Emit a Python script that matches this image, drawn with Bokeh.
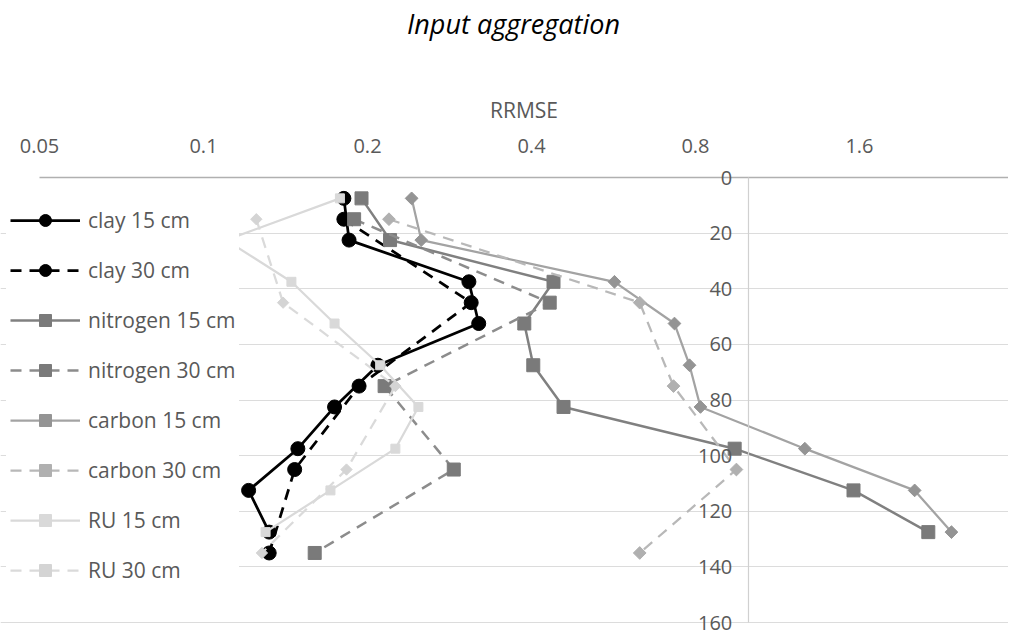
import numpy as np
from bokeh.plotting import figure
from bokeh.models import (Range1d, LogAxis, LinearAxis, FixedTicker, Grid,
                          Legend, LegendItem, Label)
from bokeh.embed import file_html
from bokeh.resources import INLINE

# ---------------- data ----------------
depth_15 = [7.5, 22.5, 37.5, 52.5, 67.5, 82.5, 97.5, 112.5, 127.5]
depth_30 = [15, 45, 75, 105, 135]

clay_15 = [0.181, 0.185, 0.307, 0.320, 0.209, 0.174, 0.149, 0.121, 0.132]
clay_30 = [0.181, 0.310, 0.193, 0.147, 0.132]
nitrogen_15 = [0.195, 0.220, 0.439, 0.388, 0.403, 0.458, 0.944, 1.56, 2.14]
nitrogen_30 = [0.189, 0.432, 0.215, 0.288, 0.160]
carbon_15 = [0.241, 0.251, 0.568, 0.732, 0.780, 0.817, 1.27, 2.02, 2.36]
carbon_30 = [0.219, 0.632, 0.729, 0.951, 0.632]
ru_15 = [0.178, 0.110, 0.145, 0.174, 0.211, 0.248, 0.225, 0.171, 0.130]
ru_30 = [0.125, 0.140, 0.225, 0.183, 0.128]

x_ticks = [0.05, 0.1, 0.2, 0.4, 0.8, 1.6]
x_tick_labels = ["0.05", "0.1", "0.2", "0.4", "0.8", "1.6"]
y_ticks = [0, 20, 40, 60, 80, 100, 120, 140, 160]
grid_ticks = [20, 40, 60, 80, 100, 120, 140, 160]

title_text = "Input aggregation"
x_title = "RRMSE"

# ---------------- figure ----------------
W, H = 1008, 639
FONT = "Open Sans"
TXT = "#595959"

p = figure(width=W, height=H, output_backend="svg", toolbar_location=None,
           x_axis_type="log", x_axis_location=None, y_axis_location=None,
           x_range=Range1d(0.04240, 3.0035), y_range=Range1d(166.11, -63.64),
           min_border=0, outline_line_color=None)
p.title.visible = False
for g in p.grid:
    g.visible = False

grid = Grid(dimension=1, ticker=FixedTicker(ticks=grid_ticks),
            grid_line_color="#dcdcdc", grid_line_width=1)
p.add_layout(grid)

xaxis = LogAxis(fixed_location=0, ticker=FixedTicker(ticks=x_ticks),
                bounds=(0.05, 3.0),
                major_label_overrides=dict(zip(x_ticks, x_tick_labels)),
                axis_label=x_title, axis_label_standoff=12,
                axis_label_text_font=FONT, axis_label_text_font_size="21px",
                axis_label_text_font_style="normal", axis_label_text_color=TXT,
                major_label_text_font=FONT, major_label_text_font_size="20px",
                major_label_text_color=TXT, major_label_standoff=25,
                major_tick_in=0, major_tick_out=0, minor_tick_in=0, minor_tick_out=0,
                axis_line_color="#b0b0b0", axis_line_width=1.5)
p.add_layout(xaxis, "above")

yaxis = LinearAxis(fixed_location=1.0, ticker=FixedTicker(ticks=y_ticks),
                   bounds=(0, 160),
                   major_label_text_font=FONT, major_label_text_font_size="20px",
                   major_label_text_color=TXT, major_label_standoff=16,
                   major_tick_in=0, major_tick_out=0, minor_tick_in=0, minor_tick_out=0,
                   axis_line_color="#d0d0d0", axis_line_width=1.2)
p.add_layout(yaxis, "left")

# ---------------- series ----------------
series = [
    ("clay 15 cm", clay_15, depth_15, "#000000", "#000000", "solid", "circle", 14, 0, 2.75),
    ("clay 30 cm", clay_30, depth_30, "#000000", "#000000", "11 8", "circle", 14, 0, 2.75),
    ("nitrogen 15 cm", nitrogen_15, depth_15, "#808080", "#7a7a7a", "solid", "square", 13, 0, 2.5),
    ("nitrogen 30 cm", nitrogen_30, depth_30, "#8c8c8c", "#7a7a7a", "11 8", "square", 13, 0, 2.5),
    ("carbon 15 cm", carbon_15, depth_15, "#a3a3a3", "#949494", "solid", "square", 9, np.pi / 4, 2.25),
    ("carbon 30 cm", carbon_30, depth_30, "#b8b8b8", "#b0b0b0", "11 8", "square", 9, np.pi / 4, 2.25),
    ("RU 15 cm", ru_15, depth_15, "#d9d9d9", "#d9d9d9", "solid", "square", 9, 0, 2.25),
    ("RU 30 cm", ru_30, depth_30, "#dadada", "#d4d4d4", "11 8", "square", 8, np.pi / 4, 2.25),
]

items = []
for label, xs, ys, lc, mc, dash, marker, size, ang, lw in series:
    r_line = p.line(xs, ys, line_color=lc, line_width=lw, line_dash=dash)
    r_mark = p.scatter(xs, ys, marker=marker, size=size, angle=ang,
                       fill_color=mc, line_color=mc)
    items.append(LegendItem(label=label, renderers=[r_line, r_mark]))

legend = Legend(items=items, location=(6, 50), orientation="vertical",
                glyph_width=70, glyph_height=30, label_height=30, spacing=20,
                padding=4, margin=0, label_standoff=8,
                label_text_font=FONT, label_text_font_size="21px",
                label_text_color=TXT, background_fill_color="white",
                background_fill_alpha=1, border_line_alpha=0)
p.add_layout(legend)

title = Label(x=513, y=616, x_units="screen", y_units="screen", text=title_text,
              text_font=FONT, text_font_style="italic", text_font_size="27px",
              text_align="center", text_baseline="alphabetic", text_color="black")
p.add_layout(title)

open("out.html", "w").write(file_html(p, INLINE))
